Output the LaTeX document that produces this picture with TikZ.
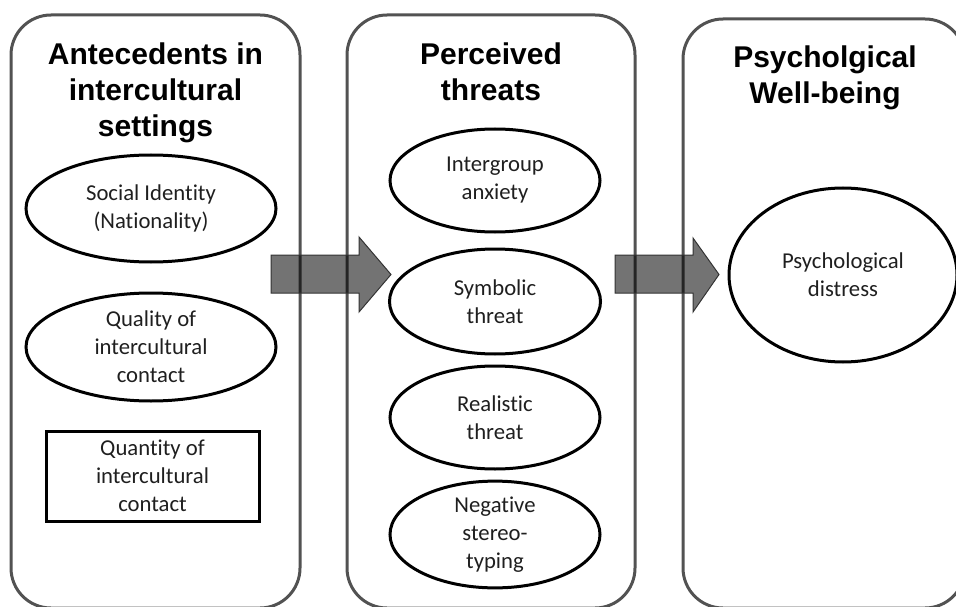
\documentclass[tikz,border=0pt]{standalone}
\usepackage{fontspec}
\setmainfont{Carlito}[Ligatures=NoCommon]
\newfontfamily\headfont{Liberation Sans}
\usetikzlibrary{shapes.geometric}
\begin{document}
\begin{tikzpicture}[x=1pt,y=-1pt,
  panel/.style={draw=black!68, line width=3pt, rounded corners=40pt},
  title/.style={font=\headfont\bfseries\fontsize{30}{36}\selectfont, align=center, inner sep=0pt},
  item/.style={ellipse, draw=black, line width=3pt, inner sep=0pt,
    font=\fontsize{22.7}{28}\selectfont, text=black!88, align=center},
  itembox/.style={rectangle, draw=black, line width=3pt, inner sep=0pt,
    font=\fontsize{22.7}{28}\selectfont, text=black!88, align=center},
  blockarrow/.style={fill=black, fill opacity=0.55, draw=black!80, line width=1pt}]
\useasboundingbox (0,0) rectangle (956,607);
\begin{scope}
\clip (0,0) rectangle (956,607);

% three column panels
\draw[panel] (11,15) rectangle (300,608);
\draw[panel] (347,15) rectangle (635,608);
\draw[panel] (683,19) rectangle (965,608);

% column headings
\node[title] (t1) at (155.5,93) {Antecedents in\\intercultural\\settings};
\node[title] (t2) at (491,72) {Perceived\\threats};
\node[title] (t3) at (825,78) {Psycholgical\\Well-being};

% antecedents
\node[item, minimum width=250pt, minimum height=107pt] (soc) at (151,208.5) {Social Identity\\(Nationality)};
\node[item, minimum width=250pt, minimum height=108pt] (qual) at (151,347) {Quality of\\intercultural\\contact};
\node[itembox, minimum width=213pt, minimum height=90pt] (quant) at (152.5,476) {Quantity of\\intercultural\\contact};

% perceived threats
\node[item, minimum width=210pt, minimum height=103pt] (anx) at (495,180.5) {Intergroup\\anxiety};
\node[item, minimum width=211pt, minimum height=105pt] (sym) at (495,301.5) {Symbolic\\threat};
\node[item, minimum width=210pt, minimum height=103pt] (real) at (495,417.5) {Realistic\\threat};
\node[item, minimum width=210pt, minimum height=103pt] (neg) at (495,534.5) {Negative\\stereo-\\typing};

% outcome
\node[item, minimum width=228pt, minimum height=174pt] (dist) at (843,275) {Psychological\\distress};

% block arrows between the columns
\draw[blockarrow] (271,255) -- (359,255) -- (359,237) -- (391,274.5) -- (359,312) -- (359,293) -- (271,293) -- cycle;
\draw[blockarrow] (615,255) -- (693,255) -- (693,238) -- (719,274.5) -- (693,312) -- (693,293) -- (615,293) -- cycle;
\end{scope}
\end{tikzpicture}
\end{document}
